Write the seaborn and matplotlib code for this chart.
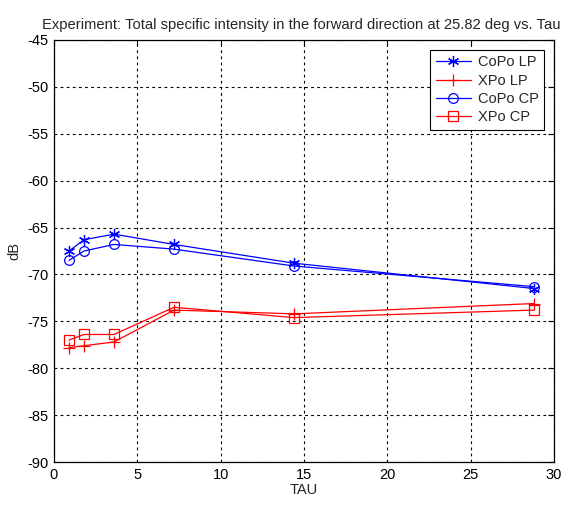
import matplotlib
matplotlib.use("Agg")
import matplotlib.pyplot as plt
import seaborn as sns
import pandas as pd

tau = [0.9, 1.8, 3.6, 7.2, 14.4, 28.8]
copo_lp = [-67.5, -66.3, -65.7, -66.8, -68.8, -71.5]
xpo_lp = [-77.8, -77.6, -77.2, -73.8, -74.2, -73.1]
copo_cp = [-68.5, -67.5, -66.8, -67.3, -69.1, -71.3]
xpo_cp = [-77.0, -76.4, -76.4, -73.5, -74.6, -73.8]
series_names = ["CoPo LP", "XPo LP", "CoPo CP", "XPo CP"]

sns.set_style("white")
plt.rcParams['font.family'] = ['Liberation Sans', 'DejaVu Sans']
plt.rcParams['axes.unicode_minus'] = False

fig = plt.figure(figsize=(5.66, 5.05), dpi=100)
ax = fig.add_axes([0.0954, 0.0851, 0.8834, 0.8357])

asterisk = (6, 2, 0)
styles = [
    (copo_lp, "#0000ff", asterisk, "#0000ff", 8),
    (xpo_lp, "#ff0000", "+", "#ff0000", 9),
    (copo_cp, "#0000ff", "o", "none", 7),
    (xpo_cp, "#ff0000", "s", "none", 7.5),
]
for name, (vals, col, mk, mfc, ms) in zip(series_names, styles):
    df = pd.DataFrame({"TAU": tau, "dB": vals})
    sns.lineplot(data=df, x="TAU", y="dB", ax=ax, color=col, marker=mk,
                 markersize=ms, markerfacecolor=mfc, markeredgecolor=col,
                 markeredgewidth=0.9, linewidth=0.9, label=name)

ax.set_xlim(0, 30)
ax.set_ylim(-90, -45)
ax.set_xticks(range(0, 31, 5))
ax.set_yticks(range(-90, -44, 5))
ax.grid(True, color="black", linestyle=(0, (2.5, 3)), linewidth=0.8)
ax.tick_params(direction="in", length=4, width=0.8, labelsize=10.5,
               top=True, right=True, colors="black", pad=4)
for sp in ax.spines.values():
    sp.set_color("black")
    sp.set_linewidth(0.9)
ax.set_xlabel("TAU", fontsize=10.5, labelpad=1)
ax.set_ylabel("dB", fontsize=10.5, labelpad=4)
ax.set_title("Experiment: Total specific intensity in the forward direction at 25.82 deg vs. Tau",
             fontsize=10.6, pad=8, x=0.494)

leg = ax.legend(loc="upper right", fontsize=10.5, fancybox=False, framealpha=1,
                edgecolor="black", borderaxespad=0.7, handlelength=2.4,
                borderpad=0.35, labelspacing=0.3, handletextpad=0.5)
leg.get_frame().set_linewidth(0.8)

fig.savefig("out.png", dpi=100)
